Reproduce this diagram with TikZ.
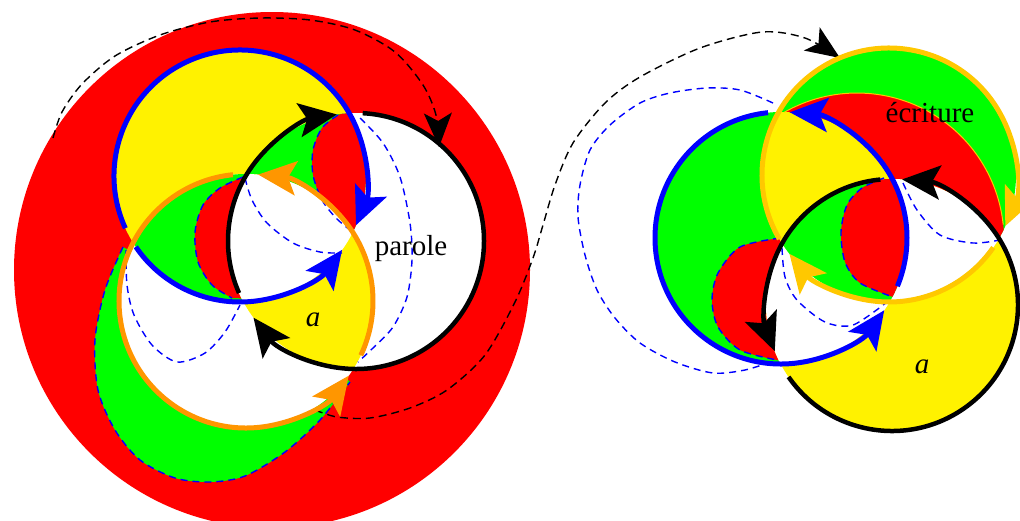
\documentclass[tikz,border=0pt]{standalone}
\usepackage{fontspec}
\setmainfont{Liberation Serif}
\usetikzlibrary{arrows.meta}
\definecolor{korange}{RGB}{255,150,0}
\definecolor{kgold}{RGB}{255,200,0}
\begin{document}
\begin{tikzpicture}[x=1pt,y=-1pt,
  bluearc/.style={draw=blue,line width=5pt},
  blackarc/.style={draw=black,line width=4.5pt},
  orangearc/.style={draw=korange,line width=5pt},
  goldarc/.style={draw=kgold,line width=5pt},
  arrowend/.style={-{Stealth[length=38pt,width=34pt,inset=8pt]}},
  dashblue/.style={draw=blue,line width=1.4pt,dash pattern=on 7pt off 5pt},
  dashblack/.style={draw=black,line width=1.4pt,dash pattern=on 8pt off 5pt,-{Stealth[length=34pt,width=28pt,inset=8pt]}},
  lbl/.style={font=\fontsize{29}{34}\selectfont,inner sep=0pt}]
\useasboundingbox (0,0) rectangle (1020,520);

% ---------------- left figure : fills ----------------
\fill[red] (272,270) circle[radius=258];
\fill[green] plot[smooth] coordinates {(123,247) (105,290) (95,340) (98,390) (115,430) (140,460) (175,478) (210,482) (245,476) (285,452) (320,420) (350,382)} -- (300,330) -- (200,290) -- cycle;
\fill[yellow] (240,176) circle[radius=126];
\fill[white] (356,241) circle[radius=128];
\fill[white] (246,301) circle[radius=127];
\begin{scope}
  \clip (240,176) circle[radius=126];
  \fill[green] (356,241) circle[radius=128];
  \fill[green] (246,301) circle[radius=127];
\end{scope}
\begin{scope}
  \clip (240,176) circle[radius=126];
  \clip (356,241) circle[radius=128];
  \fill[red] plot[smooth] coordinates {(338,115) (322,128) (313,150) (313,175) (322,200) (336,218) (350,230)} -- (420,230) -- (420,90) -- cycle;
\end{scope}
\begin{scope}
  \clip (240,176) circle[radius=126];
  \clip (246,301) circle[radius=127];
  \fill[red] plot[smooth] coordinates {(243,177) (220,188) (203,205) (195,232) (198,262) (212,285) (232,298)} -- (290,300) -- (290,170) -- cycle;
\end{scope}
\begin{scope}
  \clip (246,301) circle[radius=127];
  \fill[yellow] (356,241) circle[radius=128];
  \clip (356,241) circle[radius=128];
  \fill[white] (240,176) circle[radius=126];
\end{scope}

% ---------------- right figure : fills ----------------
\fill[green] (889,175) circle[radius=127];
\begin{scope}
  \clip (889,175) circle[radius=127];
  \fill[red] (857,240) circle[radius=147];
\end{scope}
\fill[green] (781,238) circle[radius=126];
\begin{scope}
  \clip (781,238) circle[radius=126];
  \fill[red] plot[smooth] coordinates {(780,238) (740,247) (718,273) (712,300) (718,327) (740,350) (777,360)} -- (805,362) -- (805,236) -- cycle;
\end{scope}
\fill[yellow] (892,305) circle[radius=126];
\begin{scope}
  \clip (781,238) circle[radius=126];
  \fill[yellow] (889,175) circle[radius=127];
\end{scope}
\begin{scope}
  \clip (892,305) circle[radius=126];
  \fill[white] (781,238) circle[radius=126];
  \fill[white] (889,175) circle[radius=127];
\end{scope}
\begin{scope}
  \clip (781,238) circle[radius=126];
  \clip (889,175) circle[radius=127];
  \fill[green] (892,305) circle[radius=126];
  \clip (892,305) circle[radius=126];
  \fill[red] plot[smooth] coordinates {(884,178) (862,188) (847,205) (841,232) (845,262) (860,283) (893,297)} -- (930,300) -- (930,170) -- cycle;
\end{scope}
\draw[kgold,line width=1pt] (857,240) ++(240.4:147) arc[start angle=240.4,end angle=354,radius=147];

% ---------------- dashed curves ----------------
\draw[dashblue] plot[smooth] coordinates {(338,115) (322,128) (313,150) (313,175) (322,200) (336,218) (350,230)};
\draw[dashblue] plot[smooth] coordinates {(360,118) (383,143) (400,177) (410,223) (412,260) (407,297) (393,327) (373,348) (358,362)};
\draw[dashblue] plot[smooth] coordinates {(245,178) (252,200) (267,223) (293,243) (320,252) (342,253)};
\draw[dashblue] plot[smooth] coordinates {(126,250) (127,285) (134,315) (152,345) (177,362) (205,353) (225,332) (240,305)};
\draw[dashblue] plot[smooth] coordinates {(123,247) (105,290) (95,340) (98,390) (115,430) (140,460) (175,478) (210,482) (245,476) (285,452) (320,420) (350,382)};
\draw[dashblue] plot[smooth] coordinates {(243,177) (220,188) (203,205) (195,232) (198,262) (212,285) (232,298)};
\draw[dashblue] plot[smooth] coordinates {(884,178) (862,188) (847,205) (841,232) (845,262) (860,283) (893,297)};
\draw[dashblue] plot[smooth] coordinates {(780,238) (740,247) (718,273) (712,300) (718,327) (740,350) (777,360)};
\draw[dashblue] plot[smooth] coordinates {(773,103) (740,90) (707,88) (670,93) (640,103) (610,125) (590,150) (580,185) (578,217) (585,255) (597,290) (615,318) (640,343) (675,362) (713,373) (745,370) (770,362)};
\draw[dashblue] plot[smooth] coordinates {(903,183) (917,210) (940,235) (973,243) (1000,240)};
\draw[dashblue] plot[smooth] coordinates {(782,248) (785,277) (797,300) (825,322) (853,325) (887,302)};

\draw[dashblack] plot[smooth] coordinates {(53,138) (62,112) (82,84) (115,56) (160,35) (210,22) (260,18) (310,20) (355,30) (395,52) (423,85) (436,115) (439,147)};
\draw[dashblack] plot[smooth] coordinates {(315,410) (337,417) (370,418) (410,408) (447,390) (485,355) (515,302) (533,258) (543,225) (555,185) (573,143) (605,103) (640,77) (700,48) (762,32) (805,38) (840,58)};

% ---------------- left figure : rings ----------------
\draw[bluearc,arrowend] (240,176) ++(155.5:126) arc[start angle=155.5,end angle=383,radius=126];
\draw[bluearc,arrowend] (240,176) ++(145.8:126) arc[start angle=145.8,end angle=35.9,radius=126];
\draw[blackarc,arrowend] (356,241) ++(156:128) arc[start angle=156,end angle=261.4,radius=128];
\draw[blackarc,arrowend] (356,241) ++(273:128) arc[start angle=273,end angle=503.2,radius=128];
\draw[orangearc,arrowend] (246,301) ++(264.1:127) arc[start angle=264.1,end angle=36,radius=127];
\draw[orangearc,arrowend] (246,301) ++(25.3:127) arc[start angle=25.3,end angle=-84.5,radius=127];

% ---------------- right figure : rings ----------------
\draw[bluearc,arrowend] (781,238) ++(264.1:126) arc[start angle=264.1,end angle=35,radius=126];
\draw[bluearc,arrowend] (781,238) ++(22.5:126) arc[start angle=22.5,end angle=-86,radius=126];
\draw[goldarc,arrowend] (889,175) ++(149.7:127) arc[start angle=149.7,end angle=383.7,radius=127];
\draw[goldarc,arrowend] (889,175) ++(34.8:127) arc[start angle=34.8,end angle=141.6,radius=127];
\draw[blackarc,arrowend] (892,305) ++(145.2:126) arc[start angle=145.2,end angle=-85.4,radius=126];
\draw[blackarc,arrowend] (892,305) ++(264.7:126) arc[start angle=264.7,end angle=158.5,radius=126];

% ---------------- labels ----------------
\node[lbl] (parole) at (411,249) {parole};
\node[lbl] (ecriture) at (930,113) {écriture};
\node[lbl] (aleft) at (313,320) {\textit{a}};
\node[lbl] (aright) at (922,367) {\textit{a}};
\end{tikzpicture}
\end{document}
